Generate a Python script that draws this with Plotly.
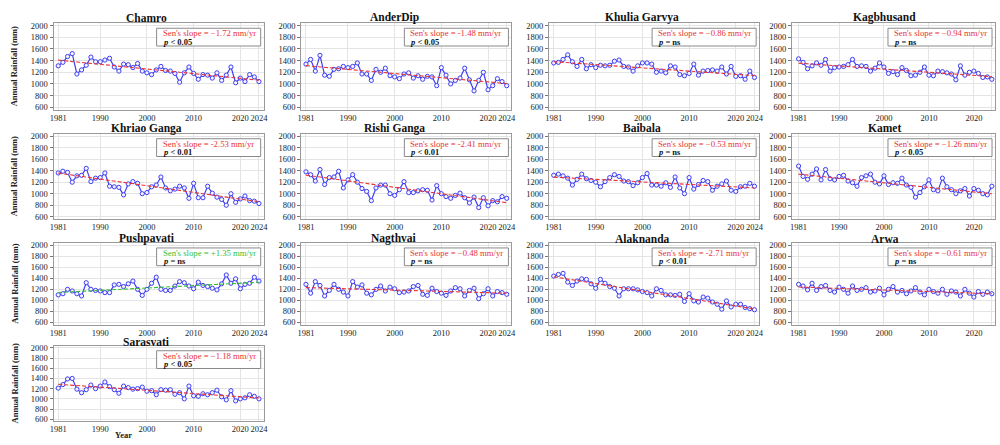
import numpy as np
import plotly.graph_objects as go

# ---------------- data ----------------
years = list(range(1981, 2025))

chamro = [1310, 1370, 1470, 1520, 1170, 1240, 1320, 1460, 1380, 1380,
          1410, 1440, 1290, 1220, 1340, 1330, 1280, 1350, 1220, 1190,
          1160, 1240, 1300, 1230, 1220, 1180, 1030, 1190, 1290, 1180,
          1080, 1160, 1150, 1100, 1190, 1060, 1150, 1290, 1020, 1100,
          1040, 1160, 1120, 1040]
anderdip = [1340, 1420, 1220, 1490, 1150, 1130, 1250, 1260, 1300, 1280,
            1300, 1360, 1170, 1170, 1060, 1250, 1200, 1270, 1140, 1120,
            1090, 1170, 1190, 1100, 1140, 1080, 1130, 1120, 970, 1280,
            1150, 1000, 1060, 1100, 1270, 1070, 880, 1060, 1200, 900,
            970, 1090, 1040, 970]
khulia_garvya = [1360, 1370, 1420, 1500, 1380, 1300, 1420, 1260, 1330, 1280,
                 1320, 1310, 1320, 1390, 1410, 1300, 1290, 1220, 1310, 1360,
                 1360, 1340, 1200, 1220, 1190, 1310, 1290, 1160, 1140, 1180,
                 1340, 1150, 1220, 1230, 1240, 1220, 1290, 1170, 1300, 1130,
                 1140, 1080, 1220, 1110]
kagbhusand = [1430, 1370, 1260, 1310, 1360, 1320, 1420, 1220, 1280, 1290,
              1300, 1330, 1420, 1300, 1310, 1300, 1220, 1270, 1360, 1290,
              1180, 1210, 1160, 1280, 1230, 1140, 1150, 1200, 1290, 1150,
              1140, 1220, 1210, 1190, 1170, 1070, 1310, 1150, 1200, 1220,
              1180, 1110, 1120, 1080]
khriao_ganga = [1360, 1390, 1370, 1200, 1310, 1320, 1440, 1210, 1270, 1280,
                1360, 1130, 1120, 1110, 980, 1170, 1210, 1180, 1000, 1020,
                1120, 1150, 1290, 1100, 1050, 1080, 1130, 1100, 920, 1180,
                930, 930, 1130, 1010, 940, 900, 800, 1000, 850, 910,
                960, 880, 870, 830]
rishi_ganga = [1380, 1330, 1220, 1420, 1160, 1280, 1290, 1390, 1100, 1240,
               1330, 1200, 1090, 1040, 880, 1100, 1150, 1150, 1000, 970,
               1070, 1210, 1020, 1020, 1050, 1070, 1060, 890, 1140, 1000,
               950, 920, 970, 1010, 930, 840, 940, 760, 930, 790,
               880, 860, 950, 920]
baibala = [1320, 1340, 1310, 1270, 1150, 1250, 1340, 1260, 1230, 1200,
           1120, 1210, 1280, 1330, 1300, 1220, 1210, 1140, 1190, 1280,
           1350, 1150, 1150, 1130, 1190, 1110, 1290, 1100, 1000, 1280,
           1080, 1160, 1230, 1210, 1060, 1130, 1170, 1220, 1060, 1040,
           1120, 1130, 1180, 1130]
kamet = [1480, 1300, 1250, 1340, 1430, 1240, 1420, 1260, 1240, 1300,
         1320, 1220, 1190, 1130, 1280, 1310, 1340, 1200, 1170, 1310,
         1160, 1190, 1180, 1270, 1150, 1110, 940, 1020, 1120, 1240,
         1070, 1050, 1270, 1120, 1070, 1000, 1050, 1090, 960, 1090,
         1060, 1000, 980, 1130]
pushpavati = [1100, 1120, 1200, 1170, 1120, 1080, 1320, 1200, 1180, 1170,
              1140, 1140, 1280, 1290, 1250, 1300, 1350, 1200, 1090, 1200,
              1310, 1420, 1200, 1180, 1180, 1260, 1340, 1320, 1260, 1210,
              1330, 1270, 1250, 1220, 1190, 1300, 1460, 1310, 1390, 1210,
              1290, 1310, 1420, 1350]
nagthvai = [1290, 1130, 1340, 1270, 1080, 1180, 1290, 1200, 1150, 1080,
            1340, 1240, 1280, 1130, 1100, 1200, 1260, 1170, 1240, 1210,
            1140, 1150, 1170, 1250, 1270, 1110, 1090, 1220, 1160, 1130,
            1090, 1170, 1230, 1210, 1080, 1180, 1220, 1030, 1120, 1210,
            1080, 1160, 1140, 1110]
alaknanda = [1440, 1470, 1490, 1330, 1270, 1350, 1390, 1380, 1300, 1220,
             1380, 1310, 1250, 1220, 1080, 1210, 1210, 1210, 1190, 1160,
             1140, 1080, 1210, 1180, 1100, 1100, 1090, 1110, 980, 1120,
             990, 970, 1060, 1040, 970, 930, 840, 990, 880, 930,
             930, 870, 850, 830]
arwa = [1290, 1260, 1190, 1310, 1180, 1250, 1270, 1180, 1150, 1240,
        1200, 1130, 1260, 1180, 1200, 1230, 1150, 1170, 1220, 1100,
        1200, 1250, 1150, 1180, 1120, 1170, 1230, 1150, 1100, 1200,
        1160, 1130, 1200, 1110, 1170, 1150, 1080, 1200, 1130, 1060,
        1160, 1110, 1150, 1120]
sarasvati = [1210, 1280, 1390, 1400, 1190, 1120, 1180, 1270, 1200, 1250,
             1330, 1240, 1180, 1110, 1250, 1220, 1190, 1200, 1230, 1150,
             1160, 1080, 1180, 1170, 1180, 1090, 1120, 1000, 1250, 1060,
             1050, 1100, 1080, 1120, 1170, 1040, 980, 1160, 960, 1000,
             1020, 1080, 1050, 1000]

station_names = ["Chamro", "AnderDip", "Khulia Garvya", "Kagbhusand",
                 "Khriao Ganga", "Rishi Ganga", "Baibala", "Kamet",
                 "Pushpavati", "Nagthvai", "Alaknanda", "Arwa", "Sarasvati"]
station_series = [chamro, anderdip, khulia_garvya, kagbhusand,
                  khriao_ganga, rishi_ganga, baibala, kamet,
                  pushpavati, nagthvai, alaknanda, arwa, sarasvati]
slope_labels = ["\u22121.72", "-1.48", "\u22120.86", "\u22120.94",
                "-2.53", "-2.41", "\u22120.53", "\u22121.26",
                "+1.35", "\u22120.48", "-2.71", "\u22120.61", "\u22121.18"]
p_labels = ["< 0.05", "< 0.05", "= ns", "= ns",
            "< 0.01", "< 0.01", "= ns", "< 0.05",
            "= ns", "= ns", "< 0.01", "= ns", "< 0.05"]

x_ticks = [1981, 1990, 2000, 2010, 2020, 2024]
y_ticks = [600, 800, 1000, 1200, 1400, 1600, 1800, 2000]


def sens_trend(x, y):
    """Theil-Sen line: median pairwise slope, median intercept."""
    x = np.asarray(x, float)
    y = np.asarray(y, float)
    i, j = np.triu_indices(len(x), k=1)
    slope = np.median((y[j] - y[i]) / (x[j] - x[i]))
    intercept = np.median(y - slope * x)
    return slope * x + intercept


# ---------------- layout geometry (pixels) ----------------
W, H = 1000, 445
col_left = [50, 300, 550, 795]
col_right = [262, 512, 762, 1000]
col_xrange = [[1980, 2025], [1980, 2025], [1980, 2025], [1979.5, 2024.7]]
row_top = [20.6, 132.6, 243.3, 347.5]
row_bot = [108.0, 219.0, 326.0, 424.0]
title_y = [15, 127, 239, 344]


def px(x):
    return x / W


def py(y):
    return 1 - y / H


SERIF = "Liberation Serif, Times New Roman, serif"
BLUE = "#3f3ff2"
RED = "#e83434"
GREEN = "#34c034"

fig = go.Figure()
layout = dict(
    width=W, height=H,
    margin=dict(l=0, r=0, t=0, b=0),
    paper_bgcolor="white", plot_bgcolor="white",
    showlegend=False,
    font=dict(family=SERIF, color="#222"),
)
annotations = []
shapes = []

for k, (name, vals) in enumerate(zip(station_names, station_series)):
    r, c = divmod(k, 4)
    ax = "" if k == 0 else str(k + 1)
    xa, ya = "x" + ax, "y" + ax

    fig.add_trace(go.Scatter(
        x=years, y=vals, xaxis=xa, yaxis=ya, mode="lines+markers",
        line=dict(color=BLUE, width=1.2),
        marker=dict(symbol="circle", size=4.2, color="#f4f4ff",
                    line=dict(color=BLUE, width=1)),
        hoverinfo="skip"))
    positive = slope_labels[k].startswith("+")
    trend_col = GREEN if positive else RED
    fig.add_trace(go.Scatter(
        x=years, y=sens_trend(years, vals), xaxis=xa, yaxis=ya,
        mode="lines", line=dict(color=trend_col, width=1.1, dash="4px,2px"),
        hoverinfo="skip"))

    layout["xaxis" + ax] = dict(
        domain=[px(col_left[c]), px(col_right[c])],
        range=col_xrange[c], anchor=ya,
        tickvals=x_ticks, ticktext=[str(t) for t in x_ticks], tickangle=0,
        tickfont=dict(size=8.5, family=SERIF, color="#222"),
        showgrid=True, gridcolor="#e4e4e4", gridwidth=1,
        showline=True, linecolor="#9a9a9a", linewidth=1, mirror=True,
        ticks="",
        zeroline=False, fixedrange=True)
    layout["yaxis" + ax] = dict(
        domain=[py(row_bot[r]), py(row_top[r])],
        range=[560, 2040], anchor=xa,
        tickvals=y_ticks, ticktext=[str(t) for t in y_ticks],
        tickfont=dict(size=8.5, family=SERIF, color="#222"),
        showgrid=True, gridcolor="#e4e4e4", gridwidth=1,
        showline=True, linecolor="#9a9a9a", linewidth=1, mirror=True,
        ticks="outside", ticklen=3, tickcolor="#777",
        zeroline=False, fixedrange=True)

    # panel title
    annotations.append(dict(
        text="<b>%s</b>" % name, xref="paper", yref="paper",
        x=px(col_left[c] + 94), y=py(title_y[r]),
        xanchor="center", yanchor="middle", showarrow=False,
        font=dict(size=11.5, family=SERIF, color="#111")))

    # statistics box
    bx1 = col_right[c] - 3
    bx0 = bx1 - 105
    by0 = row_top[r] + 5
    by1 = by0 + 18
    shapes.append(dict(type="rect", xref="paper", yref="paper",
                       x0=px(bx0), x1=px(bx1), y0=py(by1), y1=py(by0),
                       line=dict(color="#8a8a8a", width=1),
                       fillcolor="white", layer="above"))
    annotations.append(dict(
        text="Sen's slope = %s mm/yr" % slope_labels[k],
        xref="paper", yref="paper", x=px(bx0 + 4), y=py(by0 + 5),
        xanchor="left", yanchor="middle", showarrow=False,
        font=dict(size=8.7, family=SERIF, color=trend_col)))
    annotations.append(dict(
        text="<b><i>p</i> %s</b>" % p_labels[k],
        xref="paper", yref="paper", x=px(bx0 + 4), y=py(by0 + 13.5),
        xanchor="left", yanchor="middle", showarrow=False,
        font=dict(size=8.5, family=SERIF, color="#111")))

# y-axis titles on the first column
for r in range(4):
    annotations.append(dict(
        text="<b>Annual Rainfall (mm)</b>", xref="paper", yref="paper",
        x=px(11), y=py((row_top[r] + row_bot[r]) / 2),
        xanchor="center", yanchor="middle", textangle=-90, showarrow=False,
        font=dict(size=8.5, family=SERIF, color="#222")))

# x-axis title below the last panel
annotations.append(dict(
    text="<b>Year</b>", xref="paper", yref="paper",
    x=px(121), y=py(445), xanchor="center", yanchor="bottom",
    showarrow=False, font=dict(size=8.5, family=SERIF, color="#222")))

layout["annotations"] = annotations
layout["shapes"] = shapes
fig.update_layout(**layout)
fig.write_html("out.html")
